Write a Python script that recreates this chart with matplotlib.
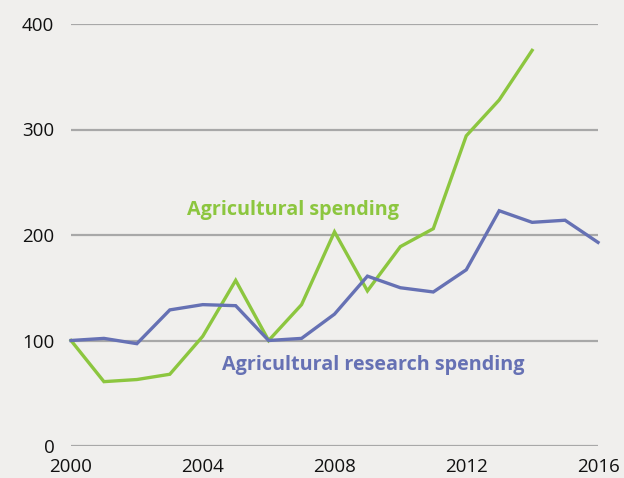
import matplotlib
matplotlib.use("Agg")
import matplotlib.pyplot as plt

years_ag = list(range(2000, 2015))
ag_spending = [100, 61, 63, 68, 104, 157, 100, 134, 203, 147, 189, 206, 294, 328, 375]
years_res = list(range(2000, 2017))
res_spending = [100, 102, 97, 129, 134, 133, 100, 102, 125, 161, 150, 146, 167, 223, 212, 214, 193]
x_ticks = [2000, 2004, 2008, 2012, 2016]
y_ticks = [0, 100, 200, 300, 400]

bg = "#f0efed"
green = "#8cc63f"
blue = "#6671b4"

plt.rcParams['font.family'] = ['Open Sans', 'DejaVu Sans']
fig = plt.figure(figsize=(6.24, 4.78), dpi=100, facecolor=bg)
ax = fig.add_axes([71/624, 1-446/478, (598-71)/624, (446-24)/478])
ax.set_facecolor(bg)
ax.set_xlim(2000, 2016)
ax.set_ylim(0, 400)
for s in ax.spines.values():
    s.set_visible(False)
ax.set_yticks(y_ticks)
ax.set_xticks(x_ticks)
ax.yaxis.grid(True, color="#a8a8a8", linewidth=1.6)
ax.set_axisbelow(True)
ax.tick_params(axis='both', length=0, labelsize=13.5, colors="#111111")
ax.tick_params(axis='y', pad=12)
ax.tick_params(axis='x', pad=9)

ax.plot(years_ag, ag_spending, color=green, linewidth=2.4, clip_on=False, solid_joinstyle='miter')
ax.plot(years_res, res_spending, color=blue, linewidth=2.4, clip_on=False, solid_joinstyle='miter')

ax.text(2006.74, 224, "Agricultural spending", color=green, fontsize=14.2, fontweight='bold',
        ha='center', va='center')
ax.text(2009.18, 77, "Agricultural research spending", color=blue, fontsize=14.2, fontweight='bold',
        ha='center', va='center')

fig.savefig("out.png", dpi=100, facecolor=bg)
